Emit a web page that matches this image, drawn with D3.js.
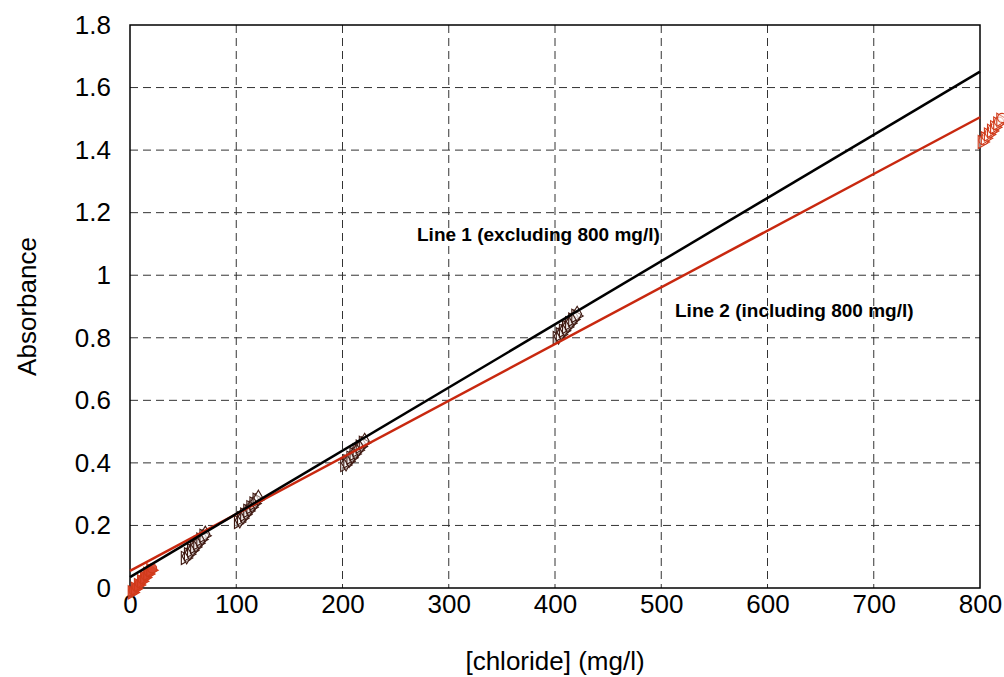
<!DOCTYPE html>
<html><head><meta charset="utf-8">
<script src="https://cdn.jsdelivr.net/npm/d3@7"></script>
<style>body{margin:0;background:#fff}svg{display:block}text{font-family:"Liberation Sans",Arial,sans-serif}</style>
</head><body>
<svg id="c" width="1004" height="677"></svg>
<script>
const concentrations = [0, 50, 100, 200, 400, 800];
const absorbance = [-0.03, 0.08, 0.195, 0.377, 0.783, 1.41];
const pointSeries = ["line2", "line1", "line1", "line1", "line1", "line2"];
const line1 = {intercept: 0.035, slope: 0.00202};
const line2 = {intercept: 0.055, slope: 0.0018125};
const xTicks = [0, 100, 200, 300, 400, 500, 600, 700, 800];
const yTicks = [0, 0.2, 0.4, 0.6, 0.8, 1, 1.2, 1.4, 1.6, 1.8];

const svg = d3.select("#c");
const L = 130, R = 980, T = 25, B = 588;
const x = d3.scaleLinear().domain([0, 800]).range([L, R]);
const y = d3.scaleLinear().domain([0, 1.8]).range([B, T]);

svg.append("g").selectAll("line").data(xTicks.slice(1, -1)).join("line")
  .attr("x1", d => x(d)).attr("x2", d => x(d)).attr("y1", T).attr("y2", B)
  .attr("stroke", "#333").attr("stroke-width", 1).attr("stroke-dasharray", "8,5");
svg.append("g").selectAll("line").data(yTicks.slice(1, -1)).join("line")
  .attr("y1", d => y(d)).attr("y2", d => y(d)).attr("x1", L).attr("x2", R)
  .attr("stroke", "#333").attr("stroke-width", 1).attr("stroke-dasharray", "8,5");

svg.append("rect").attr("x", L).attr("y", T).attr("width", R - L).attr("height", B - T)
  .attr("fill", "none").attr("stroke", "#000").attr("stroke-width", 1.5);

const xAxis = svg.append("g").attr("transform", `translate(0,${B})`)
  .call(d3.axisBottom(x).tickValues(xTicks).tickSize(0).tickPadding(7).tickFormat(d3.format("d")));
xAxis.select(".domain").remove();
xAxis.selectAll("text").attr("font-size", 26).attr("fill", "#000").attr("font-family", "Liberation Sans, Arial, sans-serif");

const yAxis = svg.append("g").attr("transform", `translate(${L},0)`)
  .call(d3.axisLeft(y).tickValues(yTicks).tickSize(0).tickPadding(19).tickFormat(d => d3.format("~g")(d)));
yAxis.select(".domain").remove();
yAxis.selectAll("text").attr("font-size", 26).attr("fill", "#000").attr("font-family", "Liberation Sans, Arial, sans-serif");

function drawLine(p, color) {
  svg.append("line")
    .attr("x1", x(0)).attr("y1", y(p.intercept))
    .attr("x2", x(800)).attr("y2", y(p.intercept + p.slope * 800))
    .attr("stroke", color).attr("stroke-width", 2.5);
}

const trail = d3.range(14);
const tri = d3.symbol().type(d3.symbolTriangle).size(75);
const dia = d3.symbol().type(d3.symbolDiamond).size(70);
const circ = d3.symbol().type(d3.symbolCircle).size(65);
const pts = concentrations.map((c, i) => ({c, a: absorbance[i], s: pointSeries[i]}));
const g = svg.append("g");
pts.forEach((p, pi) => {
  const px = x(p.c) + 2, py = y(p.a) - 5;
  const isRed = p.s === "line2";
  const filled = pi === 0;
  trail.forEach(k => {
    const sym = isRed ? (k % 2 ? circ : tri) : (k % 2 ? dia : tri);
    g.append("path").attr("d", sym())
      .attr("transform", `translate(${px + k * 1.55},${py - k * 1.85}) rotate(${k % 2 ? 0 : -30})`)
      .attr("fill", filled ? "#d8442a" : "#fff")
      .attr("fill-opacity", filled ? 0.9 : 0.45)
      .attr("stroke", isRed ? "#d03a1a" : "#3e1810")
      .attr("stroke-width", 1.1);
  });
});

drawLine(line2, "#c8280f");
drawLine(line1, "#000");

svg.append("text").attr("x", 417).attr("y", 241).attr("font-size", 19).attr("font-weight", "bold")
  .text("Line 1 (excluding 800 mg/l)");
svg.append("text").attr("x", 675).attr("y", 317).attr("font-size", 19).attr("font-weight", "bold")
  .text("Line 2 (including 800 mg/l)");

svg.append("text").attr("x", (L + R) / 2).attr("y", 670).attr("text-anchor", "middle").attr("font-size", 26)
  .text("[chloride] (mg/l)");
svg.append("text").attr("transform", `translate(36,${(T + B) / 2}) rotate(-90)`).attr("text-anchor", "middle").attr("font-size", 26)
  .text("Absorbance");
</script>
</body></html>
